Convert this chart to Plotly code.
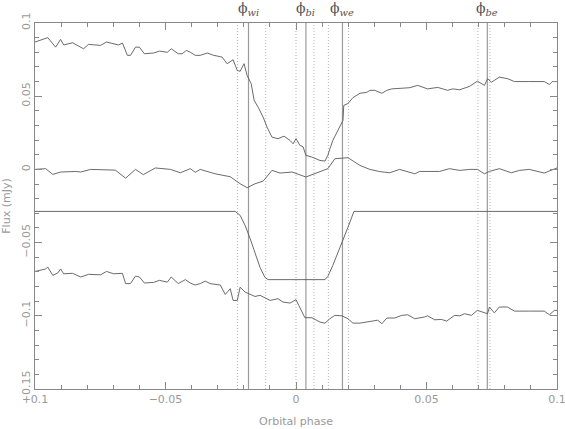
import plotly.graph_objects as go

# observed light curve (upper), residuals (middle), model (flat), comparison (lower)
phase_top = [-0.1, -0.0951, -0.0921, -0.0902, -0.0890, -0.0856, -0.0814, -0.0795, -0.0749, -0.0726,
             -0.0680, -0.0665, -0.0646, -0.0634, -0.0615, -0.0600, -0.0581, -0.0546, -0.0523, -0.0493,
             -0.0478, -0.0451, -0.0436, -0.0420, -0.0405, -0.0386, -0.0367, -0.0340, -0.0317, -0.0283,
             -0.0264, -0.0241, -0.0225, -0.0214, -0.0199, -0.0187, -0.0172, -0.0160, -0.0145, -0.0126,
             -0.0111, -0.0092, -0.0069, -0.0046, -0.0023, -0.0011, 0.0, 0.0015, 0.0027, 0.0038,
             0.0061, 0.0092, 0.0111, 0.0122, 0.0130, 0.0141, 0.0180, 0.0183, 0.0199, 0.0218,
             0.0245, 0.0271, 0.0283, 0.0302, 0.0329, 0.0348, 0.0367, 0.0405, 0.0436, 0.0466,
             0.0504, 0.0543, 0.0581, 0.0600, 0.0627, 0.0665, 0.0695, 0.0722, 0.0734, 0.0749,
             0.0779, 0.0810, 0.0837, 0.0894, 0.0951, 0.0971, 0.0982, 0.1]
flux_top = [0.087, 0.090, 0.0835, 0.0888, 0.085, 0.0865, 0.0824, 0.0854, 0.0847, 0.087,
            0.085, 0.0863, 0.0779, 0.0779, 0.0835, 0.0835, 0.079, 0.0795, 0.0808, 0.080,
            0.0824, 0.079, 0.079, 0.0813, 0.080, 0.0779, 0.0779, 0.0795, 0.078, 0.0767,
            0.0722, 0.0749, 0.0676, 0.067, 0.0722, 0.064, 0.0587, 0.047, 0.0425, 0.0357,
            0.0289, 0.022, 0.021, 0.0227, 0.0198, 0.0175, 0.021, 0.0164, 0.0155, 0.0096,
            0.0084, 0.0061, 0.0057, 0.0096, 0.0141, 0.0198, 0.0335, 0.0437, 0.045, 0.049,
            0.052, 0.0526, 0.054, 0.054, 0.052, 0.054, 0.055, 0.0553, 0.0558, 0.0574,
            0.055, 0.056, 0.054, 0.055, 0.0544, 0.0567, 0.0603, 0.0574, 0.062, 0.0596,
            0.063, 0.062, 0.060, 0.060, 0.060, 0.058, 0.060, 0.060]

phase_mid = [-0.1, -0.0959, -0.0932, -0.0902, -0.0844, -0.0825, -0.0787, -0.0749, -0.0692, -0.0653,
             -0.0615, -0.0585, -0.0539, -0.0481, -0.0443, -0.0405, -0.0386, -0.0367, -0.0310, -0.0252,
             -0.0214, -0.0187, -0.0157, -0.0126, -0.0092, -0.0061, -0.0015, 0.0038, 0.0092, 0.0122,
             0.0149, 0.0180, 0.0199, 0.0245, 0.0283, 0.0321, 0.0359, 0.0397, 0.0455, 0.0474,
             0.0550, 0.0588, 0.0627, 0.0665, 0.0695, 0.0722, 0.0741, 0.0779, 0.0825, 0.0856,
             0.0894, 0.0951, 0.1]
flux_mid = [0.0, 0.0005, -0.0034, -0.0018, -0.0014, -0.0018, 0.0, 0.0, -0.0005, -0.006,
            0.0, -0.0036, 0.001, 0.0, -0.0023, 0.0005, -0.002, 0.0, -0.003, -0.005,
            -0.0098, -0.0125, -0.0098, -0.008, -0.0007, -0.0025, -0.0018, -0.0052, -0.0018, 0.0005,
            0.0073, 0.008, 0.008, 0.0027, 0.0, -0.0015, -0.0023, 0.0, -0.003, -0.0014,
            -0.0014, 0.0005, -0.0007, 0.0, 0.0, -0.003, -0.0014, 0.0005, -0.0023, -0.0007,
            0.0, -0.0025, 0.001]

phase_model = [-0.1, -0.0233, -0.0214, -0.0195, -0.0176, -0.0157, -0.0138, -0.0119, -0.0107,
               0.0111, 0.0122, 0.0141, 0.0168, 0.0199, 0.0222, 0.1]
flux_model = [-0.0287, -0.0287, -0.0314, -0.0383, -0.0471, -0.0574, -0.0669, -0.0738, -0.0753,
              -0.0753, -0.0731, -0.0656, -0.054, -0.0396, -0.0287, -0.0287]

phase_low = [-0.1, -0.0959, -0.0951, -0.0932, -0.0913, -0.0902, -0.0890, -0.0856, -0.0825, -0.0795,
             -0.0749, -0.0726, -0.0699, -0.0665, -0.0653, -0.0634, -0.0615, -0.0600, -0.0581, -0.0546,
             -0.0523, -0.0493, -0.0478, -0.0451, -0.0424, -0.0405, -0.0386, -0.0367, -0.0348, -0.0329,
             -0.0290, -0.0271, -0.0252, -0.0241, -0.0225, -0.0214, -0.0195, -0.0176, -0.0157, -0.0138,
             -0.0118, -0.0099, -0.0069, -0.0050, -0.0023, 0.0, 0.0011, 0.0034, 0.0061, 0.0092,
             0.0111, 0.0130, 0.0149, 0.0176, 0.0199, 0.0218, 0.0245, 0.0264, 0.0290, 0.0313,
             0.0329, 0.0348, 0.0378, 0.0405, 0.0428, 0.0455, 0.0493, 0.0504, 0.0531, 0.0558,
             0.0577, 0.0608, 0.0627, 0.0646, 0.0672, 0.0695, 0.0734, 0.0741, 0.0760, 0.0779,
             0.0810, 0.0837, 0.0894, 0.0951, 0.0971, 0.0990, 0.1]
flux_low = [-0.0697, -0.068, -0.0667, -0.0724, -0.0708, -0.068, -0.0713, -0.071, -0.0735, -0.0717,
            -0.072, -0.0697, -0.0713, -0.071, -0.078, -0.078, -0.0729, -0.0735, -0.0776, -0.0772,
            -0.0758, -0.077, -0.0735, -0.078, -0.0753, -0.0776, -0.079, -0.078, -0.0763, -0.078,
            -0.079, -0.0854, -0.0815, -0.0895, -0.0895, -0.0804, -0.0838, -0.0854, -0.0868, -0.086,
            -0.0876, -0.0895, -0.0883, -0.0906, -0.0913, -0.089, -0.093, -0.1013, -0.1013, -0.1043,
            -0.105, -0.102, -0.0997, -0.1, -0.102, -0.105, -0.105, -0.1043, -0.1036, -0.103,
            -0.1054, -0.1015, -0.1015, -0.0997, -0.0993, -0.102, -0.1008, -0.1, -0.1027, -0.1025,
            -0.1036, -0.0997, -0.1, -0.0986, -0.0997, -0.0963, -0.0986, -0.094, -0.098, -0.094,
            -0.094, -0.0968, -0.0968, -0.0968, -0.0993, -0.0963, -0.0963]

# contact phases and their error bounds
contact_names = ["wi", "bi", "we", "be"]
contact_phase = [-0.0182, 0.0038, 0.0178, 0.0733]
contact_lo = [-0.0224, 0.0, 0.0124, 0.0697]
contact_hi = [-0.0116, 0.0069, 0.0201, 0.0743]

line_col = "#5a5a5a"
fig = go.Figure()

# dotted error bounds and solid contact lines
for lo, hi, ph in zip(contact_lo, contact_hi, contact_phase):
    for b in (lo, hi):
        fig.add_shape(type="line", x0=b, x1=b, y0=0, y1=1, xref="x", yref="paper",
                      line=dict(color="#b5b5b5", width=1, dash="1px,2px"), layer="below")
    fig.add_shape(type="line", x0=ph, x1=ph, y0=0, y1=1, xref="x", yref="paper",
                  line=dict(color="#9a9a9a", width=1.2), layer="below")

for xs, ys in [(phase_top, flux_top), (phase_mid, flux_mid),
               (phase_model, flux_model), (phase_low, flux_low)]:
    fig.add_trace(go.Scatter(x=xs, y=ys, mode="lines",
                             line=dict(color=line_col, width=0.9), showlegend=False))

# phi labels above the frame
for name, ph in zip(contact_names, contact_phase):
    fig.add_annotation(x=ph, y=1.0, xref="x", yref="paper", yanchor="bottom", yshift=3,
                       showarrow=False, text="ϕ<sub><i>" + name + "</i></sub>",
                       font=dict(size=14, color="#555555", family="DejaVu Serif"))

axis_common = dict(showline=True, linecolor="#888888", linewidth=1, mirror="allticks",
                   ticks="inside", ticklen=7, tickcolor="#888888", showgrid=False,
                   zeroline=False, automargin=False, ticklabeloverflow="allow",
                   tickfont=dict(size=11, color="#999999"),
                   minor=dict(dtick=0.01, ticks="inside", ticklen=4, tickcolor="#888888"))

fig.update_xaxes(range=[-0.1, 0.1], dtick=0.05, tick0=0,
                 title=dict(text="Orbital phase", font=dict(size=11, color="#999999"), standoff=12),
                 **axis_common)
fig.update_yaxes(range=[-0.15, 0.1], dtick=0.05, tick0=0, tickangle=-90,
                 title=dict(text="Flux (mJy)", font=dict(size=11, color="#999999"), standoff=8),
                 **axis_common)

fig.update_layout(
    width=565, height=429,
    margin=dict(l=35, r=8, t=23, b=40),
    plot_bgcolor="white", paper_bgcolor="white",
    font=dict(family="DejaVu Sans", color="#999999"),
)

# drop the page's default body margin so the figure sits at the window corner
fig.write_html("out.html", config={"displayModeBar": False},
               post_script="document.body.style.margin='0';")
